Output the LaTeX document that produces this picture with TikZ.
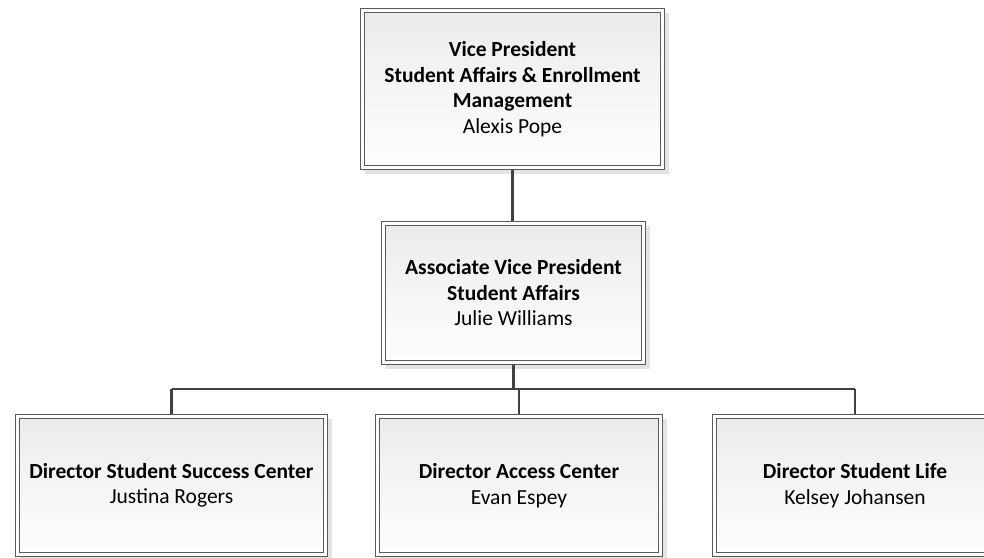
\documentclass[tikz,border=0pt]{standalone}
\usepackage{fontspec}
\setmainfont{Carlito}
\usetikzlibrary{shadows}
\definecolor{boxline}{HTML}{5A5A5A}
\definecolor{conn}{HTML}{404040}
\definecolor{shade}{HTML}{E4E4E4}
\definecolor{topfill}{HTML}{EBEBEB}
\begin{document}
\begin{tikzpicture}[x=1pt,y=-1pt,
  orgbox/.style={draw=boxline, line width=0.9pt, fill=white, align=center, inner sep=0pt,
    font=\fontsize{21.5}{25.5}\selectfont,
    drop shadow={shadow xshift=4pt, shadow yshift=-4pt, fill=shade, opacity=1},
    path picture={
      \shade[top color=topfill, bottom color=white, draw=boxline, line width=0.9pt]
        ([shift={(4pt,-4pt)}]path picture bounding box.north west) rectangle
        ([shift={(-4pt,4pt)}]path picture bounding box.south east);}},
  link/.style={draw=conn, line width=2.6pt}]
\useasboundingbox (0,0) rectangle (984,557);
\node[orgbox, minimum width=304pt, minimum height=161pt] (vp) at (512.5,89)
  {\textbf{Vice President}\\\textbf{Student Affairs \& Enrollment}\\\textbf{Management}\\Alexis Pope};
\node[orgbox, minimum width=264pt, minimum height=143pt] (avp) at (513.5,293)
  {\textbf{Associate Vice President}\\\textbf{Student Affairs}\\Julie Williams};
\node[orgbox, minimum width=312pt, minimum height=142pt] (d1) at (171.5,485.5)
  {\textbf{Director Student Success Center}\\Justina Rogers};
\node[orgbox, minimum width=287pt, minimum height=142pt] (d2) at (519,485.5)
  {\textbf{Director Access Center}\\Evan Espey};
\node[orgbox, minimum width=285pt, minimum height=142pt] (d3) at (855,485.5)
  {\textbf{Director Student Life}\\Kelsey Johansen};
\coordinate (bus) at (513,389);
\draw[link] (vp.south) -- (vp.south |- avp.north);
\draw[link] (avp.south) -- (avp.south |- bus);
\draw[link] (d1.north |- bus) -- (d3.north |- bus);
\draw[link] (d1.north) -- (d1.north |- bus);
\draw[link] (d2.north) -- (d2.north |- bus);
\draw[link] (d3.north) -- (d3.north |- bus);
\end{tikzpicture}
\end{document}
